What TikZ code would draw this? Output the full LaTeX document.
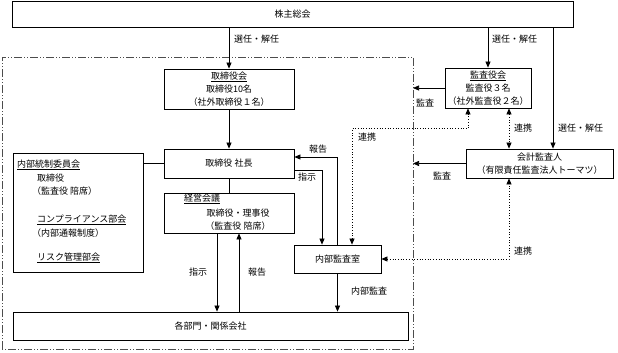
\documentclass[tikz,border=0pt]{standalone}
\usepackage{fontspec}
\setmainfont{Noto Sans CJK JP}
\usetikzlibrary{arrows.meta,positioning,calc}

\tikzset{
  box/.style={draw, line width=0.8pt, inner sep=0pt, align=center,
    font=\fontsize{9}{13}\selectfont},
  lbl/.style={font=\fontsize{9}{10}\selectfont, inner sep=1pt},
  arr/.style={-{Triangle[length=6pt,width=5pt]}, line width=0.7pt},
  darr/.style={{Triangle[length=6pt,width=5pt]}-{Triangle[length=6pt,width=5pt]},
    dotted, line width=0.7pt},
  frame/.style={line width=0.8pt, draw=black!70,
    dash pattern=on 8pt off 2pt on 1pt off 2pt on 1pt off 2pt}
}

\begin{document}
\begin{tikzpicture}[x=1pt, y=-1pt]
  \useasboundingbox (0,0) rectangle (618,353);
  % Frame
  \coordinate (frameSW) at (2,349);
  \coordinate (frameNE) at (413,57);
  \draw[frame] (frameSW) rectangle (frameNE);
  % Boxes
  \node[box, minimum width=561pt, minimum height=26pt] (soukai) at (292.5,14) {株主総会};
  \node[box, minimum width=130pt, minimum height=40pt] (torikai) at (229,89)
    {\underline{取締役会}\\取締役10名\\（社外取締役１名）};
  \node[box, minimum width=86pt, minimum height=40pt] (kansa) at (488,88)
    {\underline{監査役会}\\監査役３名\\（社外監査役２名）};
  \node[box, minimum width=130pt, minimum height=29pt] (shacho) at (229,163.5) {取締役\ 社長};
  \node[box, minimum width=147pt, minimum height=29pt] (kaikei) at (539.5,163.5)
    {会計監査人\\（有限責任監査法人トーマツ）};
  \node[box, minimum width=130pt, minimum height=119pt] (tousei) at (78,212.5) {};
  \node[box, minimum width=130pt, minimum height=40pt] (keiei) at (229,213) {};
  \node[box, minimum width=87pt, minimum height=28pt] (naibu) at (337.5,259) {内部監査室};
  \node[box, minimum width=395pt, minimum height=28pt] (kakubu) at (210.5,326) {各部門・関係会社};
  % Texts in boxes
  \node[lbl, anchor=west] (keiei1) at (183,199) {\underline{経営会議}};
  \node[lbl] (keiei2) at (238,213) {取締役・理事役};
  \node[lbl] (keiei3) at (238,226) {（監査役\ 陪席）};
  \node[lbl, anchor=west] (ts1) at (16,165) {\underline{内部統制委員会}};
  \node[lbl, anchor=west] (ts2) at (36,178) {取締役};
  \node[lbl, anchor=west] (ts3) at (31,191) {（監査役\ 陪席）};
  \node[lbl, anchor=west] (ts4) at (36,220) {\underline{コンプライアンス部会}};
  \node[lbl, anchor=west] (ts5) at (31,233) {（内部通報制度）};
  \node[lbl, anchor=west] (ts6) at (36,258) {\underline{リスク管理部会}};
  % Connectors
  \coordinate (senB) at (553,0);
  \draw[arr] (soukai.south -| torikai.north) -- (torikai.north);
  \draw[arr] (soukai.south -| kansa.north) -- (kansa.north);
  \draw[arr] (soukai.south -| senB) -- (kaikei.north -| senB);
  \draw[arr] (torikai) -- (shacho);
  \draw[line width=0.7pt] (shacho.west) -- (shacho.west -| tousei.east);
  \draw[line width=0.7pt] (shacho) -- (keiei);
  \draw[arr] ([xshift=-12pt]keiei.south) -- ([xshift=-12pt]keiei.south |- kakubu.north);
  \draw[arr] ([xshift=10pt]keiei.south |- kakubu.north) -- ([xshift=10pt]keiei.south);
  \draw[arr] ([yshift=-6.5pt]shacho.east) -| ([xshift=-15.5pt]naibu.north);
  \draw[arr] (naibu.north) |- ([yshift=6.5pt]shacho.east);
  \draw[arr] (naibu.south) -- (naibu.south |- kakubu.north);
  \draw[arr] (kansa.west) -- (kansa.west -| frameNE);
  \draw[arr] (kaikei.west) -- (kaikei.west -| frameNE);
  \draw[darr] ([xshift=14.5pt]naibu.north) -- ++(0,-116) -| ([xshift=-20pt]kansa.south);
  \draw[darr] ([xshift=21pt]kansa.south) -- ([xshift=21pt]kansa.south |- kaikei.north);
  \draw[darr] (naibu.east) -| ([xshift=-30.5pt]kaikei.south);
  % Labels
  \node[lbl, anchor=west] (sen1) at (233,39) {選任・解任};
  \node[lbl, anchor=west] (sen2) at (491,39) {選任・解任};
  \node[lbl, anchor=west] (sen3) at (557,128) {選任・解任};
  \node[lbl] (kansaL1) at (425,103) {監査};
  \node[lbl] (kansaL2) at (442,176) {監査};
  \node[lbl] (renL1) at (367,137) {連携};
  \node[lbl] (renL2) at (523,128) {連携};
  \node[lbl] (renL3) at (523,251) {連携};
  \node[lbl] (houL1) at (318,149) {報告};
  \node[lbl] (shiL1) at (307,177) {指示};
  \node[lbl] (shiL2) at (198,272) {指示};
  \node[lbl] (houL2) at (257,272) {報告};
  \node[lbl] (naiL) at (369,291) {内部監査};
\end{tikzpicture}
\end{document}
